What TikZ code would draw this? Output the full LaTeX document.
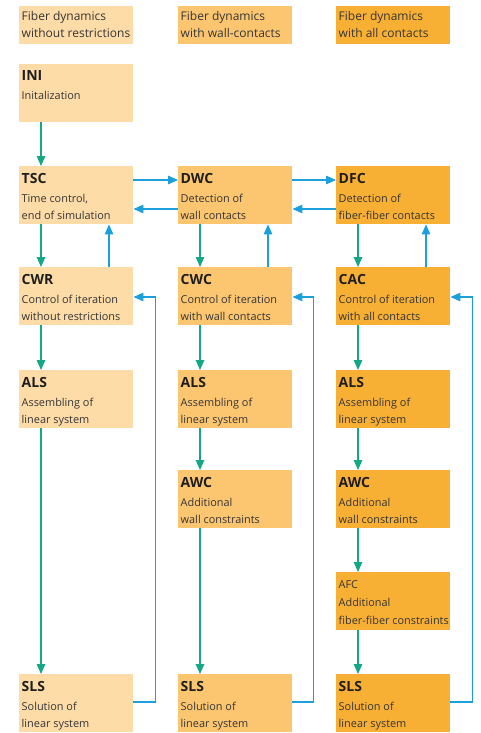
\documentclass[tikz,border=0pt]{standalone}
\usepackage{fontspec}
\setmainfont{Open Sans}
\usetikzlibrary{arrows.meta}
\definecolor{cA}{HTML}{FDDCA8}
\definecolor{cB}{HTML}{FCC670}
\definecolor{cC}{HTML}{F8B034}
\definecolor{grn}{HTML}{14A884}
\definecolor{blu}{HTML}{1BA0DC}
\definecolor{txt}{HTML}{353535}
\definecolor{ttlc}{HTML}{1E1E1E}
\tikzset{
  box/.style={anchor=north west, minimum width=114pt, minimum height=58pt, inner sep=0pt, draw=none},
  hdr/.style={anchor=base west, inner sep=0pt, font=\fontsize{12}{14}\selectfont, text=txt},
  ttl/.style={anchor=base west, inner sep=0pt, font=\fontsize{14}{16}\selectfont\bfseries, text=ttlc},
  dsc/.style={anchor=base west, inner sep=0pt, font=\fontsize{10.9}{12}\selectfont, text=txt},
  garr/.style={draw=grn, line width=1.2pt, -{Triangle[length=10pt,width=8.5pt]}},
  barr/.style={draw=blu, line width=1.2pt, -{Triangle[length=10pt,width=8.5pt]}},
}
\newcommand{\flowbox}[7]{%
  \node[box,fill=#4] (#1) at (#2,#3) {};
  \node[ttl] (#1t) at ([shift={(2.5,17)}]#1.north west) {#5};
  \node[dsc] (#1a) at ([shift={(2.5,36)}]#1.north west) {#6};
  \node[dsc] (#1b) at ([shift={(2.5,53.5)}]#1.north west) {#7};
}
\begin{document}
\begin{tikzpicture}[x=1pt,y=-1pt]
\useasboundingbox (0,0) rectangle (481,733);
% headers
\node[box,fill=cA,minimum height=38pt] (h1) at (19,6) {};
\node[box,fill=cB,minimum height=38pt] (h2) at (178,6) {};
\node[box,fill=cC,minimum height=38pt] (h3) at (336,6) {};
\node[hdr] at ([shift={(2.5,14.5)}]h1.north west) {Fiber dynamics};
\node[hdr] at ([shift={(2.5,31.5)}]h1.north west) {without restrictions};
\node[hdr] at ([shift={(2.5,14.5)}]h2.north west) {Fiber dynamics};
\node[hdr] at ([shift={(2.5,31.5)}]h2.north west) {with wall-contacts};
\node[hdr] at ([shift={(2.5,14.5)}]h3.north west) {Fiber dynamics};
\node[hdr] at ([shift={(2.5,31.5)}]h3.north west) {with all contacts};
% column 1
\flowbox{ini}{19}{64}{cA}{INI}{Initalization}{}
\flowbox{tsc}{19}{166}{cA}{TSC}{Time control,}{end of simulation}
\flowbox{cwr}{19}{267}{cA}{CWR}{Control of iteration}{without restrictions}
\flowbox{alsA}{19}{370}{cA}{ALS}{Assembling of}{linear system}
\flowbox{slsA}{19}{674}{cA}{SLS}{Solution of}{linear system}
% column 2
\flowbox{dwc}{178}{166}{cB}{DWC}{Detection of}{wall contacts}
\flowbox{cwc}{178}{267}{cB}{CWC}{Control of iteration}{with wall contacts}
\flowbox{alsB}{178}{370}{cB}{ALS}{Assembling of}{linear system}
\flowbox{awcB}{178}{470}{cB}{AWC}{Additional}{wall constraints}
\flowbox{slsB}{178}{674}{cB}{SLS}{Solution of}{linear system}
% column 3
\flowbox{dfc}{336}{166}{cC}{DFC}{Detection of}{fiber-fiber contacts}
\flowbox{cac}{336}{267}{cC}{CAC}{Control of iteration}{with all contacts}
\flowbox{alsC}{336}{370}{cC}{ALS}{Assembling of}{linear system}
\flowbox{awcC}{336}{470}{cC}{AWC}{Additional}{wall constraints}
\node[box,fill=cC] (afc) at (336,572) {};
\node[dsc] at ([shift={(2.5,16)}]afc.north west) {AFC};
\node[dsc] at ([shift={(2.5,34.5)}]afc.north west) {Additional};
\node[dsc] at ([shift={(2.5,52.5)}]afc.north west) {fiber-fiber constraints};
\flowbox{slsC}{336}{674}{cC}{SLS}{Solution of}{linear system}
% green arrows
\foreach \a/\b in {ini/tsc, tsc/cwr, cwr/alsA, alsA/slsA}
  \draw[garr] ([xshift=22pt]\a.south west) -- ([xshift=22pt]\b.north west);
\foreach \a/\b in {dwc/cwc, cwc/alsB, alsB/awcB, awcB/slsB}
  \draw[garr] ([xshift=22pt]\a.south west) -- ([xshift=22pt]\b.north west);
\foreach \a/\b in {dfc/cac, cac/alsC, alsC/awcC, awcC/afc, afc/slsC}
  \draw[garr] ([xshift=22pt]\a.south west) -- ([xshift=22pt]\b.north west);
% blue up arrows
\foreach \a/\b in {cwr/tsc, cwc/dwc, cac/dfc}
  \draw[barr] ([xshift=90pt]\a.north west) -- ([xshift=90pt]\b.south west);
% blue horizontal arrows
\draw[barr] ([yshift=-14pt]tsc.north east) -- ([yshift=-14pt]dwc.north west);
\draw[barr] ([yshift=-14pt]dwc.north east) -- ([yshift=-14pt]dfc.north west);
\draw[barr] ([yshift=-43pt]dwc.north west) -- ([yshift=-43pt]tsc.north east);
\draw[barr] ([yshift=-43pt]dfc.north west) -- ([yshift=-43pt]dwc.north east);
% feedback loops
\draw[barr] ([yshift=-28pt]slsA.north east) -- ++(22,0) |- ([yshift=-30pt]cwr.north east);
\draw[barr] ([yshift=-28pt]slsB.north east) -- ++(21,0) |- ([yshift=-30pt]cwc.north east);
\draw[barr] ([yshift=-28pt]slsC.north east) -- ++(22,0) |- ([yshift=-30pt]cac.north east);
\end{tikzpicture}
\end{document}
